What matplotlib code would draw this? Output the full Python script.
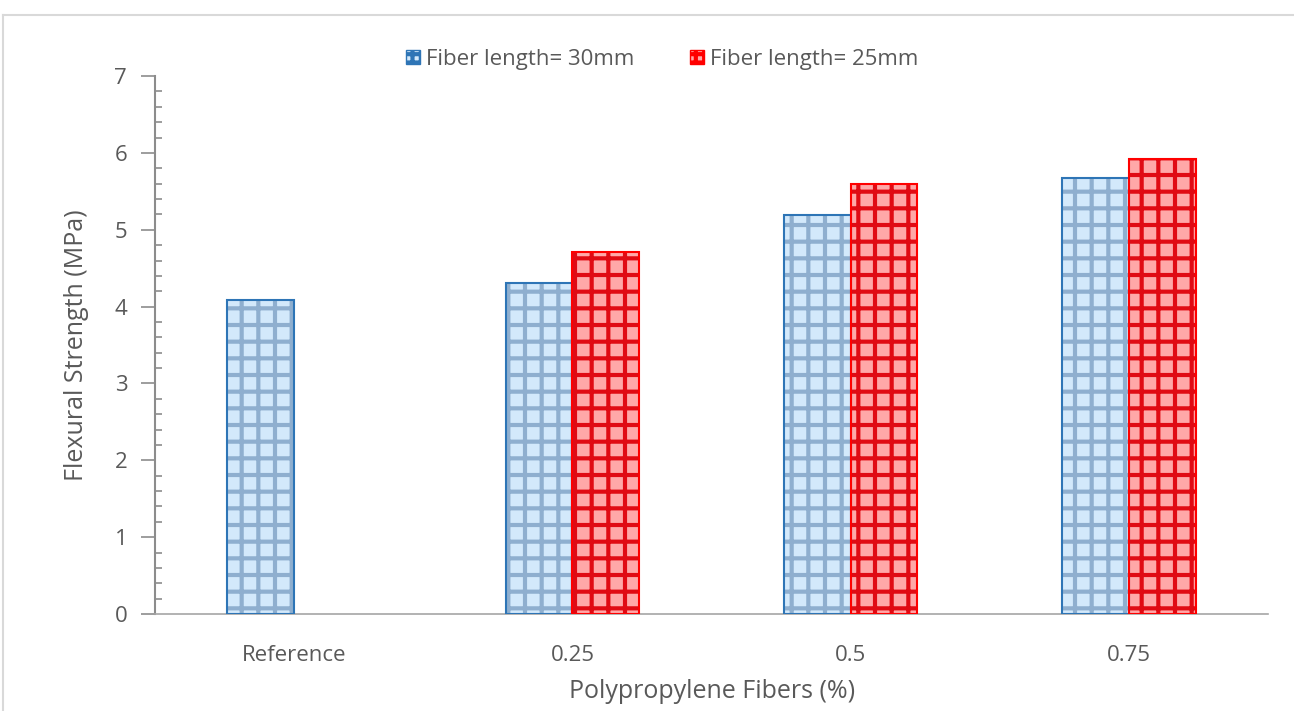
import numpy as np
import matplotlib
matplotlib.use("Agg")
import matplotlib.pyplot as plt
from matplotlib.lines import Line2D
from matplotlib.patches import Patch

categories = ["Reference", "0.25", "0.5", "0.75"]
len30 = [4.08, 4.31, 5.19, 5.67]
len25 = [np.nan, 4.71, 5.59, 5.92]
series_names = ["Fiber length= 30mm", "Fiber length= 25mm"]

plt.rcParams['font.family'] = ['Open Sans', 'DejaVu Sans']
plt.rcParams['hatch.linewidth'] = 3.0
txt = '#595959'

fig = plt.figure(figsize=(12.94, 7.11), dpi=100)
ax = fig.add_axes([0.1198, 0.1364, 0.8602, 0.7566])

x = np.arange(len(categories))
w = 0.24
styles = [
    dict(face='#d3e9fb', hatch_col='#8fafcf', edge='#2e75b6'),
    dict(face='#ffa8a8', hatch_col='#e00b14', edge='#ff0000'),
]
for vals, off, st in zip([len30, len25], [-w / 2, w / 2], styles):
    # fill + checker hatch, then the outline on top
    ax.bar(x + off, vals, w, color=st['face'], edgecolor=st['hatch_col'],
           hatch='+', linewidth=0, zorder=2)
    ax.bar(x + off, vals, w, fill=False, edgecolor=st['edge'],
           linewidth=1.5, zorder=3)

ax.set_xlim(-0.5, 3.5)
ax.set_ylim(0, 7)
ax.set_xticks(x)
ax.set_xticklabels(categories)
ax.set_yticks(range(8))
ax.set_yticks(np.arange(0, 7.01, 0.2), minor=True)
ax.tick_params(axis='y', which='major', direction='out', length=10,
               width=1.2, color='#8c8c8c', labelcolor=txt, labelsize=16, pad=10)
ax.tick_params(axis='y', which='minor', direction='in', length=5,
               width=1.2, color='#8c8c8c')
ax.tick_params(axis='x', length=0, labelcolor=txt, labelsize=16, pad=22)

for s in ['top', 'right']:
    ax.spines[s].set_visible(False)
ax.spines['left'].set_color('#8c8c8c')
ax.spines['left'].set_linewidth(1.5)
ax.spines['bottom'].set_color('#a6a6a6')
ax.spines['bottom'].set_linewidth(1.2)

ax.set_ylabel("Flexural Strength (MPa)", fontsize=18, color=txt, labelpad=18)
ax.set_xlabel("Polypropylene Fibers (%)", fontsize=18, color=txt, labelpad=10)

handles = [Patch(facecolor=st['face'], edgecolor=st['edge'], hatch='++')
           for st in styles]
leg = fig.legend(handles, series_names, loc='center', ncol=2,
                 bbox_to_anchor=(0.512, 0.916), frameon=False, fontsize=16,
                 handlelength=0.6, handleheight=0.6, handletextpad=0.3,
                 columnspacing=2.5)
for t in leg.get_texts():
    t.set_color(txt)

# chart frame
fig.add_artist(Line2D([3 / 1294, 1], [1 - 15 / 711] * 2, color='#d9d9d9', lw=1.5))
fig.add_artist(Line2D([3 / 1294] * 2, [0, 1 - 15 / 711], color='#d9d9d9', lw=1.5))

fig.savefig("out.png", dpi=100)
